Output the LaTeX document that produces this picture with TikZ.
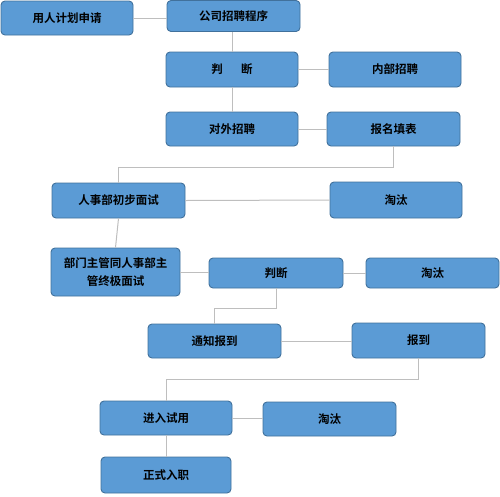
\documentclass[tikz,border=0pt]{standalone}
\usepackage{fontspec}
\setmainfont{Noto Sans CJK SC}[BoldFont={Noto Sans CJK SC Bold}]
\definecolor{boxfill}{RGB}{91,155,213}
\definecolor{boxline}{RGB}{65,113,156}
\definecolor{conn}{RGB}{190,190,190}
\tikzset{
  box/.style={draw=boxline, fill=boxfill, line width=0.9pt, rounded corners=4pt,
    inner sep=0pt, align=center, font=\fontsize{11.5}{18}\selectfont\bfseries, text=black},
  link/.style={draw=conn, line width=1pt}
}
\begin{document}
\begin{tikzpicture}[x=1pt,y=-1pt]
\useasboundingbox (0,0) rectangle (500,496);
\node[box, minimum width=132pt, minimum height=34pt] (a) at (67,18) {用人计划申请};
\node[box, minimum width=133pt, minimum height=31pt] (b) at (233.5,16) {公司招聘程序};
\node[box, minimum width=132pt, minimum height=35pt] (c) at (232,69.5) {判\hspace{1.6em}断};
\node[box, minimum width=132pt, minimum height=35pt] (d) at (395,69.5) {内部招聘};
\node[box, minimum width=132pt, minimum height=34pt] (e) at (232,129) {对外招聘};
\node[box, minimum width=133pt, minimum height=34pt] (f) at (393.5,129) {报名填表};
\node[box, minimum width=133pt, minimum height=35pt] (g) at (118.5,200.5) {人事部初步面试};
\node[box, minimum width=132pt, minimum height=36pt] (h) at (396,200) {淘汰};
\node[box, minimum width=129pt, minimum height=48pt] (i) at (115.5,272) {部门主管同人事部主\\管终极面试};
\node[box, minimum width=134pt, minimum height=30pt] (j) at (276,273) {判断};
\node[box, minimum width=133pt, minimum height=30pt] (k) at (432.5,273) {淘汰};
\node[box, minimum width=133pt, minimum height=34pt] (l) at (214.5,341) {通知报到};
\node[box, minimum width=133pt, minimum height=35pt] (m) at (418.5,340.5) {报到};
\node[box, minimum width=132pt, minimum height=34pt] (n) at (166,418) {进入试用};
\node[box, minimum width=133pt, minimum height=34pt] (o) at (329.5,419) {淘汰};
\node[box, minimum width=130pt, minimum height=36pt] (p) at (166,475) {正式入职};
\draw[link] (a.east) -- (a.east -| b.west);
\draw[link] (c.north) -- (c.north |- b.south);
\draw[link] (c.south) -- (e.north);
\draw[link] (c.east) -- (d.west);
\draw[link] (e.east) -- (f.west);
\draw[link] (f.south) -- ++(0,21) -| (g.north);
\draw[link] (g.east) -- (h.west);
\draw[link] (g.south) -- (i.north);
\draw[link] (i.east) -- (i.east -| j.west);
\draw[link] (j.east) -- (k.west);
\draw[link] (j.south) -- ++(0,20) -| (l.north);
\draw[link] (l.east) -- (l.east -| m.west);
\draw[link] (m.south) -- ++(0,21) -| (n.north);
\draw[link] (n.east) -- (n.east -| o.west);
\draw[link] (n.south) -- (p.north);
\end{tikzpicture}
\end{document}
